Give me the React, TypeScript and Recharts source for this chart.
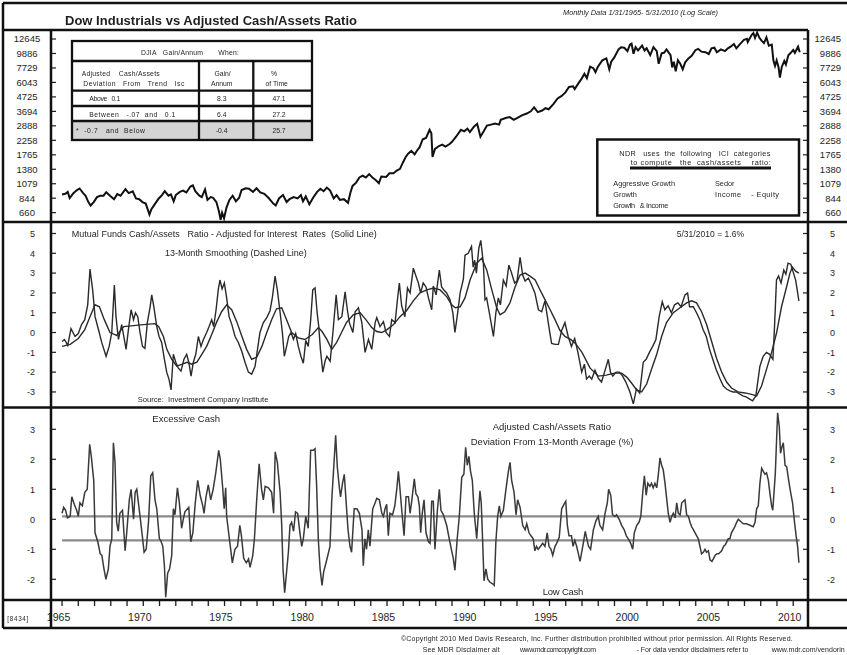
import React from 'react';
import { LineChart, Line, XAxis, YAxis, ReferenceLine } from 'recharts';

const FONT = '"Liberation Sans", Arial, Helvetica, sans-serif';
const INK = '#1e1e1e';
const X_MIN = 1964.32;
const X_MAX = 2010.91;

// DJIA (year, level)
const dowSeries: [number, number][] = [
  [1965.0, 900], [1965.2, 910], [1965.35, 940], [1965.47, 845], [1965.7, 920], [1965.9, 965],
  [1966.08, 995], [1966.3, 920], [1966.45, 880], [1966.62, 790], [1966.76, 745], [1966.95, 790],
  [1967.15, 860], [1967.35, 880], [1967.55, 880], [1967.72, 935], [1967.95, 880], [1968.2, 830],
  [1968.4, 905], [1968.6, 880], [1968.9, 985], [1969.1, 920], [1969.35, 950], [1969.55, 840],
  [1969.75, 830], [1969.95, 790], [1970.15, 770], [1970.38, 640], [1970.5, 700], [1970.7, 760],
  [1970.95, 840], [1971.15, 890], [1971.32, 950], [1971.55, 880], [1971.7, 900], [1971.87, 800],
  [1972.0, 890], [1972.25, 940], [1972.45, 960], [1972.65, 930], [1972.9, 1030], [1973.05, 1050],
  [1973.2, 950], [1973.45, 880], [1973.6, 860], [1973.8, 980], [1973.95, 820], [1974.15, 860],
  [1974.3, 850], [1974.5, 790], [1974.65, 680], [1974.76, 585], [1974.85, 660], [1974.97, 600],
  [1975.12, 720], [1975.3, 820], [1975.5, 880], [1975.7, 800], [1975.9, 850], [1976.05, 970],
  [1976.3, 1000], [1976.5, 990], [1976.75, 940], [1976.97, 1000], [1977.2, 930], [1977.45, 910],
  [1977.7, 850], [1977.85, 810], [1978.0, 770], [1978.15, 745], [1978.35, 840], [1978.6, 890],
  [1978.82, 790], [1979.0, 830], [1979.25, 860], [1979.5, 840], [1979.7, 890], [1979.83, 800],
  [1980.0, 870], [1980.22, 760], [1980.45, 850], [1980.7, 940], [1980.9, 990], [1981.1, 950],
  [1981.3, 1010], [1981.5, 960], [1981.72, 840], [1981.9, 890], [1982.1, 820], [1982.35, 830],
  [1982.6, 780], [1982.75, 930], [1982.88, 1040], [1983.1, 1100], [1983.3, 1200], [1983.5, 1240],
  [1983.7, 1200], [1983.9, 1270], [1984.1, 1200], [1984.3, 1150], [1984.5, 1090], [1984.65, 1220],
  [1984.95, 1210], [1985.15, 1290], [1985.4, 1290], [1985.6, 1350], [1985.8, 1390], [1985.98, 1550],
  [1986.15, 1700], [1986.3, 1800], [1986.5, 1890], [1986.7, 1780], [1986.85, 1900], [1987.0, 2000],
  [1987.2, 2300], [1987.4, 2350], [1987.62, 2700], [1987.73, 2550], [1987.8, 1700], [1987.95, 1950],
  [1988.2, 2050], [1988.4, 2100], [1988.6, 2030], [1988.85, 2120], [1989.0, 2200], [1989.25, 2400],
  [1989.55, 2700], [1989.75, 2630], [1989.95, 2750], [1990.1, 2600], [1990.35, 2850], [1990.55, 2990],
  [1990.75, 2400], [1990.95, 2630], [1991.15, 2900], [1991.4, 2950], [1991.65, 3000], [1991.9, 2950],
  [1992.0, 3200], [1992.3, 3300], [1992.55, 3350], [1992.8, 3200], [1993.0, 3300], [1993.3, 3450],
  [1993.6, 3560], [1993.85, 3700], [1994.05, 3950], [1994.28, 3650], [1994.55, 3750], [1994.75, 3900],
  [1994.95, 3830], [1995.25, 4200], [1995.5, 4600], [1995.75, 4800], [1995.98, 5100], [1996.2, 5600],
  [1996.45, 5650], [1996.55, 5400], [1996.8, 6000], [1996.98, 6450], [1997.15, 7000], [1997.3, 6500],
  [1997.5, 7900], [1997.7, 7700], [1997.83, 7200], [1997.98, 7900], [1998.25, 8800], [1998.5, 9100],
  [1998.68, 7550], [1998.8, 8600], [1998.98, 9200], [1999.25, 10600], [1999.4, 11000], [1999.6, 10900],
  [1999.8, 10300], [1999.95, 11500], [2000.05, 11700], [2000.17, 9850], [2000.3, 11000], [2000.45, 10400],
  [2000.7, 11300], [2000.85, 10400], [2000.98, 10800], [2001.2, 9600], [2001.4, 11000], [2001.6, 10300],
  [2001.72, 8300], [2001.9, 9900], [2002.05, 10000], [2002.2, 10600], [2002.45, 9600], [2002.55, 7800],
  [2002.65, 8600], [2002.77, 7300], [2002.9, 8800], [2003.05, 8300], [2003.2, 7550], [2003.35, 8500],
  [2003.55, 9100], [2003.75, 9500], [2003.98, 10450], [2004.15, 10700], [2004.35, 10200], [2004.6, 10100],
  [2004.8, 9800], [2004.97, 10800], [2005.15, 10900], [2005.3, 10100], [2005.55, 10600], [2005.8, 10300],
  [2005.98, 10800], [2006.15, 11100], [2006.35, 11600], [2006.5, 10800], [2006.75, 11700], [2006.97, 12450],
  [2007.15, 12700], [2007.2, 12000], [2007.45, 13600], [2007.55, 14000], [2007.65, 12900], [2007.78, 14100],
  [2007.92, 12900], [2008.05, 12300], [2008.2, 11800], [2008.35, 13000], [2008.5, 11300], [2008.68, 11500],
  [2008.78, 8800], [2008.88, 8000], [2008.98, 8800], [2009.1, 7800], [2009.18, 6550], [2009.3, 7900],
  [2009.45, 8700], [2009.55, 8200], [2009.7, 9600], [2009.85, 10000], [2010.0, 10500], [2010.1, 10000],
  [2010.3, 11100], [2010.4, 10100],
];
const dowTicks = [660, 844, 1079, 1380, 1765, 2258, 2888, 3694, 4725, 6043, 7729, 9886, 12645];

// adjusted cash/assets ratio (solid line)
const cashSeries: [number, number][] = [
  [1965.0, -0.45], [1965.15, -0.35], [1965.35, -0.65], [1965.55, 0.2], [1965.8, -0.2], [1966.0, -0.05],
  [1966.2, 0.4], [1966.4, 0.65], [1966.58, 1.4], [1966.72, 3.2], [1966.89, 2.1], [1967.03, 0.8],
  [1967.24, 0.15], [1967.44, -0.5], [1967.71, -1.2], [1967.9, -0.7], [1968.06, 0.0], [1968.22, 2.4],
  [1968.32, 0.8], [1968.47, -0.35], [1968.67, 0.4], [1968.8, -0.2], [1968.94, -0.85], [1969.1, 0.25],
  [1969.25, 1.15], [1969.4, 0.65], [1969.52, 1.0], [1969.66, 0.8], [1969.8, 0.0], [1969.95, -0.7],
  [1970.1, -0.8], [1970.25, 0.5], [1970.42, 1.3], [1970.52, 1.9], [1970.65, 1.3], [1970.83, 0.3],
  [1970.97, -0.2], [1971.13, -0.5], [1971.3, -1.35], [1971.44, -2.0], [1971.58, -2.35], [1971.71, -2.9],
  [1971.85, -1.1], [1972.0, -1.5], [1972.16, -1.8], [1972.32, -1.95], [1972.5, -1.35], [1972.67, -1.1],
  [1972.8, -1.5], [1972.94, -2.2], [1973.08, -1.5], [1973.23, -1.1], [1973.39, -0.2], [1973.55, -0.7],
  [1973.7, -0.35], [1973.9, 0.0], [1974.05, 0.3], [1974.21, 0.65], [1974.33, 0.3], [1974.48, 1.15],
  [1974.62, 2.2], [1974.72, 2.65], [1974.85, 2.2], [1974.99, 2.5], [1975.13, 1.75], [1975.28, 0.8],
  [1975.45, 0.4], [1975.65, -0.2], [1975.85, -0.5], [1976.06, -0.95], [1976.26, -1.5], [1976.47, -2.0],
  [1976.67, -2.1], [1976.88, -1.7], [1977.03, -0.85], [1977.18, 0.0], [1977.39, 0.5], [1977.6, 0.75],
  [1977.8, 1.1], [1977.95, 1.8], [1978.11, 2.85], [1978.25, 2.15], [1978.4, 1.15], [1978.56, 0.0],
  [1978.68, -1.2], [1978.82, -0.7], [1978.95, -0.2], [1979.1, 0.0], [1979.24, -0.35], [1979.38, -0.05],
  [1979.54, -0.7], [1979.7, -1.2], [1979.85, -1.55], [1980.0, -0.4], [1980.15, -0.7], [1980.3, 0.6],
  [1980.43, 2.15], [1980.57, 2.25], [1980.7, 1.0], [1980.8, 0.3], [1980.9, -0.85], [1981.05, -2.0],
  [1981.2, -1.4], [1981.3, -1.2], [1981.5, -1.45], [1981.67, 0.0], [1981.87, 1.9], [1982.01, 0.65],
  [1982.22, 0.8], [1982.42, 2.05], [1982.55, 1.2], [1982.68, 0.5], [1982.9, 0.0], [1983.04, 1.05],
  [1983.24, 1.25], [1983.45, 0.5], [1983.65, -1.0], [1983.86, -0.35], [1984.06, -0.85], [1984.27, 0.5],
  [1984.37, 0.75], [1984.57, 0.3], [1984.78, 0.55], [1984.94, 0.0], [1985.15, -0.2], [1985.29, 0.65],
  [1985.5, 0.5], [1985.64, 1.65], [1985.76, 2.5], [1985.9, 1.35], [1986.1, 0.8], [1986.26, 2.25],
  [1986.42, 2.0], [1986.62, 3.25], [1986.78, 2.85], [1986.93, 2.5], [1987.07, 2.0], [1987.23, 2.5],
  [1987.4, 2.3], [1987.55, 1.75], [1987.75, 1.15], [1987.85, 2.35], [1988.02, 1.9], [1988.22, 3.15],
  [1988.36, 2.3], [1988.5, 2.15], [1988.67, 2.0], [1988.88, 1.65], [1989.05, 1.0], [1989.18, 0.0],
  [1989.35, 1.0], [1989.5, 2.0], [1989.7, 2.7], [1989.8, 3.9], [1990.0, 4.0], [1990.2, 4.35],
  [1990.3, 3.3], [1990.4, 3.65], [1990.5, 3.0], [1990.65, 4.25], [1990.77, 4.65], [1990.93, 3.5],
  [1991.03, 1.65], [1991.13, 1.75], [1991.34, 0.8], [1991.55, -0.2], [1991.7, 1.0], [1991.85, 1.75],
  [1991.98, 1.4], [1992.16, 2.65], [1992.33, 2.35], [1992.5, 3.4], [1992.65, 3.05], [1992.85, 2.5],
  [1993.0, 2.6], [1993.19, 3.8], [1993.35, 2.9], [1993.5, 2.6], [1993.7, 2.75], [1993.9, 2.4],
  [1994.1, 2.0], [1994.32, 1.15], [1994.52, 1.05], [1994.72, 1.6], [1994.85, 0.9], [1995.0, 0.1],
  [1995.13, -0.55], [1995.35, -0.6], [1995.55, -0.6], [1995.75, 0.1], [1995.95, 0.5], [1996.15, -0.2],
  [1996.35, -0.7], [1996.55, -0.3], [1996.75, -1.0], [1996.98, -2.0], [1997.15, -1.6], [1997.28, -2.35],
  [1997.45, -2.2], [1997.6, -2.35], [1997.8, -1.9], [1998.0, -2.3], [1998.2, -2.5], [1998.35, -2.1],
  [1998.62, -1.35], [1998.75, -2.0], [1998.9, -2.2], [1999.1, -2.0], [1999.3, -2.0], [1999.5, -2.2],
  [1999.7, -2.5], [1999.95, -3.0], [2000.16, -3.6], [2000.35, -2.85], [2000.55, -3.05], [2000.77, -1.5],
  [2000.95, -1.35], [2001.15, -1.0], [2001.35, -0.7], [2001.55, -0.35], [2001.75, 0.8], [2001.94, 1.55],
  [2002.1, 1.15], [2002.3, 1.35], [2002.5, 1.0], [2002.7, 1.4], [2002.9, 1.5], [2003.1, 1.3],
  [2003.34, 1.9], [2003.5, 2.0], [2003.62, 1.3], [2003.85, 1.3], [2004.05, 1.0], [2004.25, 0.65],
  [2004.45, 0.15], [2004.65, -0.2], [2004.85, -0.85], [2005.05, -1.35], [2005.25, -1.85], [2005.5, -2.35],
  [2005.7, -2.7], [2005.9, -2.85], [2006.1, -2.95], [2006.3, -3.0], [2006.5, -3.0], [2006.7, -3.1],
  [2006.9, -3.2], [2007.1, -3.25], [2007.3, -3.35], [2007.5, -3.45], [2007.7, -3.2], [2007.95, -1.7],
  [2008.15, -1.2], [2008.35, -1.0], [2008.55, -1.1], [2008.75, -1.35], [2008.85, 0.3], [2008.97, 2.65],
  [2009.1, 2.85], [2009.25, 2.5], [2009.42, 3.15], [2009.55, 2.95], [2009.68, 3.5], [2009.85, 3.45],
  [2010.0, 3.05], [2010.15, 2.65], [2010.35, 1.6],
];

// 13-month smoothing of the ratio
const smoothSeries: [number, number][] = [
  [1965.0, -0.7], [1965.5, -0.6], [1966.0, -0.3], [1966.4, 0.15], [1966.72, 0.8], [1967.03, 1.4],
  [1967.3, 1.3], [1967.6, 0.65], [1967.95, 0.0], [1968.36, -0.15], [1968.8, 0.3], [1969.4, 0.35],
  [1970.0, 0.4], [1970.72, 0.45], [1970.95, 0.3], [1971.24, -0.2], [1971.45, -0.85], [1971.75, -1.35],
  [1972.06, -1.7], [1972.4, -1.6], [1972.7, -1.5], [1972.98, -1.6], [1973.3, -1.5], [1973.6, -1.1],
  [1973.9, -0.7], [1974.21, -0.1], [1974.5, 0.5], [1974.82, 1.05], [1975.13, 1.4], [1975.44, 1.15],
  [1975.75, 0.55], [1976.05, -0.15], [1976.36, -0.85], [1976.67, -1.35], [1976.98, -1.25], [1977.3, -0.7],
  [1977.6, 0.0], [1977.9, 0.65], [1978.2, 1.2], [1978.52, 1.25], [1978.82, 0.65], [1979.13, 0.0],
  [1979.54, -0.27], [1979.95, -0.35], [1980.4, -0.1], [1980.78, 0.25], [1981.0, 0.05], [1981.3, -0.35],
  [1981.6, -0.85], [1981.9, -0.5], [1982.2, 0.0], [1982.5, 0.5], [1982.93, 0.9], [1983.35, 1.0],
  [1983.7, 0.65], [1984.06, 0.25], [1984.37, 0.05], [1984.68, 0.0], [1985.0, 0.15], [1985.4, 0.4],
  [1985.8, 0.8], [1986.2, 1.1], [1986.62, 1.6], [1987.03, 2.0], [1987.45, 2.15], [1987.86, 2.25],
  [1988.27, 2.15], [1988.68, 1.8], [1988.98, 1.4], [1989.2, 1.25], [1989.5, 1.3], [1989.8, 1.75],
  [1990.11, 2.65], [1990.52, 3.5], [1990.83, 3.75], [1991.14, 3.15], [1991.45, 2.15], [1991.75, 1.25],
  [1991.96, 0.9], [1992.25, 1.05], [1992.57, 1.5], [1992.88, 2.3], [1993.19, 2.9], [1993.5, 3.0],
  [1993.8, 2.85], [1994.12, 2.65], [1994.42, 2.15], [1994.73, 1.65], [1995.04, 1.15], [1995.34, 0.65],
  [1995.65, 0.1], [1995.95, -0.2], [1996.3, -0.35], [1996.6, -0.55], [1997.0, -1.0], [1997.5, -1.8],
  [1998.0, -2.2], [1998.5, -2.15], [1999.0, -2.05], [1999.44, -2.05], [1999.75, -2.25], [2000.05, -2.55],
  [2000.36, -2.9], [2000.67, -3.0], [2000.98, -2.6], [2001.3, -1.8], [2001.6, -1.1], [2001.9, -0.2],
  [2002.2, 0.5], [2002.62, 1.0], [2003.03, 1.25], [2003.44, 1.5], [2003.75, 1.6], [2004.05, 1.5],
  [2004.36, 1.05], [2004.67, 0.4], [2004.98, -0.45], [2005.28, -1.3], [2005.6, -2.0], [2005.9, -2.5],
  [2006.2, -2.8], [2006.6, -3.0], [2007.03, -3.05], [2007.44, -3.12], [2007.75, -3.2], [2008.05, -2.7],
  [2008.36, -1.85], [2008.67, -1.0], [2008.98, 0.0], [2009.28, 1.3], [2009.59, 2.3], [2009.8, 3.0],
  [2009.95, 3.3], [2010.15, 3.1], [2010.35, 3.0],
];
const cashTicks = [5, 4, 3, 2, 1, 0, -1, -2, -3];

// deviation from 13-month average (%)
const devSeries: [number, number][] = [
  [1965.0, 0.2], [1965.1, 0.4], [1965.22, 0.3], [1965.33, 0.05], [1965.5, 0.1], [1965.6, 0.75],
  [1965.75, 0.5], [1965.9, 0.3], [1966.0, 0.1], [1966.1, 0.55], [1966.25, 0.45], [1966.4, 0.9],
  [1966.55, 1.0], [1966.7, 2.5], [1966.8, 2.1], [1966.95, 1.3], [1967.03, -0.45], [1967.2, -0.75],
  [1967.35, -1.15], [1967.45, -1.2], [1967.58, -1.65], [1967.7, -2.0], [1967.85, -1.65], [1967.95, -0.9],
  [1968.06, -0.65], [1968.16, 2.55], [1968.26, 1.9], [1968.36, -0.1], [1968.46, -0.4], [1968.56, 0.2],
  [1968.72, 0.3], [1968.88, -1.05], [1968.98, -0.45], [1969.14, 0.65], [1969.25, 1.0], [1969.4, 0.0],
  [1969.5, 0.9], [1969.6, 1.0], [1969.7, 0.55], [1969.8, 0.1], [1969.95, -0.6], [1970.05, -1.1],
  [1970.18, -1.0], [1970.32, -0.1], [1970.46, 1.45], [1970.58, 1.55], [1970.72, 0.65], [1970.83, 0.35],
  [1970.99, -0.65], [1971.07, -0.7], [1971.2, -0.9], [1971.3, -1.55], [1971.38, -2.6], [1971.5, -1.8],
  [1971.62, -1.65], [1971.75, -1.2], [1971.85, 0.35], [1971.95, 0.15], [1972.1, 1.05], [1972.22, 0.55],
  [1972.36, -0.3], [1972.46, 0.0], [1972.56, 0.25], [1972.8, 0.4], [1972.92, -0.75], [1973.05, -0.45],
  [1973.2, 0.55], [1973.35, 1.3], [1973.5, 0.8], [1973.66, 0.45], [1973.74, 0.2], [1973.86, 0.75],
  [1974.0, 1.15], [1974.15, 0.65], [1974.3, 1.0], [1974.46, 1.55], [1974.64, 2.3], [1974.74, 2.0],
  [1974.88, 1.1], [1974.98, 0.35], [1975.07, 1.05], [1975.13, 0.1], [1975.3, -0.65], [1975.48, -1.45],
  [1975.64, -1.0], [1975.8, -0.9], [1975.94, -0.2], [1976.04, -0.55], [1976.18, -1.3], [1976.34, -1.45],
  [1976.48, -1.32], [1976.57, -1.6], [1976.74, -1.2], [1976.84, -0.65], [1976.98, 0.65], [1977.13, 1.85],
  [1977.28, 1.0], [1977.39, 0.65], [1977.5, 1.1], [1977.7, 1.05], [1977.9, 0.9], [1978.02, 0.2],
  [1978.12, 2.25], [1978.25, 1.9], [1978.42, 0.9], [1978.52, -0.2], [1978.6, -1.65], [1978.7, -2.45],
  [1978.82, -1.75], [1978.93, -1.1], [1979.03, -0.2], [1979.13, -0.1], [1979.25, -0.4], [1979.37, 0.25],
  [1979.5, 0.2], [1979.64, -0.45], [1979.75, -0.9], [1979.85, -0.65], [1980.0, 0.1], [1980.15, -0.3],
  [1980.3, 2.3], [1980.45, 2.3], [1980.57, 2.35], [1980.67, 1.1], [1980.77, -0.65], [1980.88, -1.65],
  [1981.0, -2.2], [1981.1, -1.75], [1981.2, -1.55], [1981.36, -1.2], [1981.49, -0.9], [1981.6, 0.65],
  [1981.74, 1.9], [1981.84, 2.8], [1981.94, 1.75], [1982.06, 1.1], [1982.14, 0.75], [1982.26, 1.2],
  [1982.37, 1.5], [1982.5, 0.45], [1982.6, -0.35], [1982.72, -0.9], [1982.82, -1.1], [1982.98, 0.35],
  [1983.15, 0.35], [1983.3, 0.2], [1983.46, -0.35], [1983.54, -1.55], [1983.64, -0.65], [1983.74, -1.0],
  [1983.85, -0.35], [1983.95, -0.9], [1984.12, 0.35], [1984.27, 0.55], [1984.37, 0.7], [1984.53, 0.65],
  [1984.68, 0.2], [1984.78, 0.1], [1984.88, 0.35], [1984.98, 0.5], [1985.08, -0.55], [1985.18, 0.2],
  [1985.34, 0.15], [1985.48, 0.45], [1985.6, 1.0], [1985.7, 1.6], [1985.8, 1.0], [1985.9, 0.35],
  [1986.05, -0.55], [1986.17, 0.75], [1986.32, 0.75], [1986.42, 0.2], [1986.52, 0.6], [1986.68, 1.35],
  [1986.78, 0.85], [1986.9, 0.75], [1986.99, 0.45], [1987.07, -0.45], [1987.17, 0.2], [1987.28, 0.65],
  [1987.4, -0.45], [1987.55, -0.75], [1987.65, -0.8], [1987.75, 0.6], [1987.85, 0.6], [1987.95, -1.0],
  [1988.1, 0.3], [1988.22, 1.0], [1988.32, 0.3], [1988.47, 0.15], [1988.67, -0.2], [1988.83, -0.65],
  [1988.98, -1.05], [1989.08, -1.3], [1989.18, -1.7], [1989.32, -0.65], [1989.45, 0.1], [1989.6, 1.4],
  [1989.73, 1.5], [1989.84, 2.4], [1989.94, 1.8], [1990.04, 2.1], [1990.14, 1.6], [1990.25, 1.3],
  [1990.37, 0.2], [1990.52, -0.65], [1990.65, 0.4], [1990.72, 0.95], [1990.8, 0.55], [1990.88, -0.65],
  [1990.97, -2.05], [1991.09, -1.65], [1991.2, -2.0], [1991.34, -2.1], [1991.5, -2.15], [1991.6, -2.2],
  [1991.7, -0.75], [1991.81, 0.1], [1991.91, 0.45], [1992.01, 0.1], [1992.16, 0.3], [1992.32, 1.0],
  [1992.47, 1.6], [1992.57, 1.9], [1992.67, 1.3], [1992.82, 0.9], [1992.94, 0.15], [1993.04, 0.65],
  [1993.19, 0.4], [1993.35, -0.2], [1993.5, -0.35], [1993.6, -0.15], [1993.74, -0.45], [1993.86, -0.55],
  [1994.0, -0.65], [1994.1, -1.05], [1994.2, -0.9], [1994.3, -1.0], [1994.45, -0.9], [1994.58, -0.8],
  [1994.72, -0.9], [1994.86, -0.45], [1994.97, -0.9], [1995.09, -1.0], [1995.2, -1.2], [1995.34, -0.9],
  [1995.44, -0.8], [1995.6, -0.6], [1995.75, 0.35], [1995.89, 0.5], [1996.0, 0.6], [1996.1, -0.2],
  [1996.2, -0.55], [1996.35, -0.55], [1996.45, -0.9], [1996.56, -0.7], [1996.67, -0.9], [1996.78, -1.15],
  [1996.88, -1.4], [1996.98, -1.1], [1997.08, -0.8], [1997.2, -0.4], [1997.3, -0.65], [1997.4, -0.9],
  [1997.53, -1.0], [1997.7, -0.35], [1997.86, -0.05], [1998.0, 0.1], [1998.1, -0.2], [1998.27, -0.35],
  [1998.42, 0.2], [1998.56, 0.55], [1998.64, 1.0], [1998.77, 0.8], [1998.88, 0.15], [1999.03, 0.1],
  [1999.13, 0.15], [1999.29, 0.0], [1999.44, -0.2], [1999.6, -0.35], [1999.73, -0.55], [1999.85, -0.65],
  [2000.0, -0.8], [2000.12, -1.0], [2000.22, -0.45], [2000.37, -0.2], [2000.51, -0.1], [2000.62, 0.1],
  [2000.74, 0.9], [2000.84, 1.45], [2000.95, 0.8], [2001.05, 1.2], [2001.18, 1.1], [2001.28, 1.2],
  [2001.38, 1.05], [2001.49, 1.2], [2001.6, 1.05], [2001.7, 1.5], [2001.8, 2.05], [2001.9, 1.8],
  [2002.0, 1.65], [2002.11, 1.2], [2002.21, 0.7], [2002.31, 0.2], [2002.42, -0.1], [2002.52, 0.1],
  [2002.62, 0.2], [2002.73, 0.05], [2002.83, 0.55], [2002.93, 0.2], [2003.04, 0.15], [2003.14, 0.55],
  [2003.24, 0.6], [2003.34, 0.65], [2003.44, 0.15], [2003.55, 0.1], [2003.65, -0.1], [2003.75, -0.25],
  [2003.86, -0.35], [2003.96, -0.45], [2004.06, -0.55], [2004.16, -0.65], [2004.26, -0.9], [2004.36, -1.15],
  [2004.47, -1.1], [2004.57, -1.0], [2004.67, -1.1], [2004.78, -1.05], [2004.88, -1.35], [2005.0, -1.4],
  [2005.1, -1.3], [2005.2, -1.2], [2005.31, -1.15], [2005.41, -1.15], [2005.6, -1.05], [2005.72, -0.9],
  [2005.82, -0.85], [2006.0, -0.65], [2006.1, -0.65], [2006.2, -0.45], [2006.3, -0.35], [2006.4, -0.25],
  [2006.52, -0.1], [2006.62, 0.0], [2006.72, -0.05], [2006.82, -0.1], [2006.93, -0.15], [2007.13, -0.15],
  [2007.34, -0.2], [2007.54, -0.25], [2007.65, -0.1], [2007.75, 0.35], [2007.85, 0.45], [2007.95, 1.2],
  [2008.06, 1.7], [2008.16, 1.6], [2008.26, 1.5], [2008.36, 1.55], [2008.47, 1.3], [2008.57, 0.85],
  [2008.67, 0.45], [2008.74, 0.3], [2008.82, 0.9], [2008.9, 1.55], [2008.98, 2.7], [2009.04, 3.55],
  [2009.14, 3.1], [2009.22, 2.2], [2009.3, 2.4], [2009.39, 2.55], [2009.5, 1.8], [2009.6, 1.75],
  [2009.72, 1.3], [2009.84, 0.9], [2009.96, 0.55], [2010.08, -0.1], [2010.18, -0.55], [2010.27, -0.9],
  [2010.35, -1.45],
];
const devTicks = [3, 2, 1, 0, -1, -2];
const devBands = [0.1, -0.7];
const bandSpan = [1965, 2010.4];

const yearLabels = [1965, 1970, 1975, 1980, 1985, 1990, 1995, 2000, 2005, 2010];
const yearTicks = Array.from({ length: 46 }, (_, i) => 1965 + i);

const rows = (pts: [number, number][]) => pts.map(([x, v]) => ({ x, v }));

// tick marks drawn inside the plot on both sides, labels on both margins
function YTick(props: any) {
  const { y, payload, lx, la, rx, ra, fs } = props;
  const label = String(payload.value);
  return (
    <g>
      <line x1={51} x2={56} y1={y} y2={y} stroke={INK} strokeWidth={1.2} />
      <line x1={803} x2={808} y1={y} y2={y} stroke={INK} strokeWidth={1.2} />
      <text x={lx} y={y + fs * 0.36} textAnchor={la} fontSize={fs} fontFamily={FONT} fill={INK}>{label}</text>
      <text x={rx} y={y + fs * 0.36} textAnchor={ra} fontSize={fs} fontFamily={FONT} fill={INK}>{label}</text>
    </g>
  );
}

function YearTick(props: any) {
  const { x, payload } = props;
  const yr = payload.value;
  return (
    <g>
      <line x1={x} x2={x} y1={192} y2={198} stroke={INK} strokeWidth={1.3} />
      {yearLabels.includes(yr) && (
        <text x={x - 3.5} y={212.5} textAnchor="middle" fontSize={10.5} fontFamily={FONT} fill={INK}>{yr}</text>
      )}
    </g>
  );
}

function Txt({ x, y, s, w, anchor = 'start', bold = false, italic = false, children }: any) {
  return (
    <text
      x={x}
      y={y}
      fontSize={s}
      textAnchor={anchor}
      textLength={w}
      lengthAdjust={w ? 'spacing' : undefined}
      fontWeight={bold ? 'bold' : 'normal'}
      fontStyle={italic ? 'italic' : 'normal'}
      fontFamily={FONT}
      fill={INK}
      style={{ whiteSpace: 'pre' }}
    >
      {children}
    </text>
  );
}

const margin = { top: 0, right: 39, bottom: 0, left: 0 };

export default function App() {
  return (
    <div style={{ position: 'absolute', left: 0, top: 0, width: 847, height: 655, background: '#fff', overflow: 'hidden' }}>
      {/* top panel: DJIA, log scale */}
      <div style={{ position: 'absolute', left: 0, top: 30 }}>
        <LineChart width={847} height={192} margin={margin}>
          <XAxis type="number" dataKey="x" domain={[X_MIN, X_MAX]} hide allowDataOverflow />
          <YAxis
            type="number"
            scale="log"
            domain={[563, 14738]}
            ticks={dowTicks}
            interval={0}
            width={51}
            axisLine={false}
            tickLine={false}
            allowDataOverflow
            tick={(p: any) => <YTick {...p} lx={27} la="middle" rx={841} ra="end" fs={9.5} />}
          />
          <Line data={rows(dowSeries)} dataKey="v" type="linear" dot={false} stroke="#111" strokeWidth={2} isAnimationActive={false} />
        </LineChart>
      </div>

      {/* middle panel: cash/assets ratio + smoothing */}
      <div style={{ position: 'absolute', left: 0, top: 222 }}>
        <LineChart width={847} height={185} margin={margin}>
          <XAxis type="number" dataKey="x" domain={[X_MIN, X_MAX]} hide allowDataOverflow />
          <YAxis
            type="number"
            domain={[-3.76, 5.58]}
            ticks={cashTicks}
            interval={0}
            width={51}
            axisLine={false}
            tickLine={false}
            allowDataOverflow
            tick={(p: any) => <YTick {...p} lx={35} la="end" rx={835} ra="end" fs={9} />}
          />
          <Line data={rows(smoothSeries)} dataKey="v" type="linear" dot={false} stroke="#2a2a2a" strokeWidth={1.4} isAnimationActive={false} />
          <Line data={rows(cashSeries)} dataKey="v" type="linear" dot={false} stroke="#2a2a2a" strokeWidth={1.4} isAnimationActive={false} />
        </LineChart>
      </div>

      {/* bottom panel: deviation from 13-month average */}
      <div style={{ position: 'absolute', left: 0, top: 408 }}>
        <LineChart width={847} height={220} margin={margin}>
          <XAxis
            type="number"
            dataKey="x"
            domain={[X_MIN, X_MAX]}
            ticks={yearTicks}
            interval={0}
            height={28}
            axisLine={false}
            tickLine={false}
            allowDataOverflow
            tick={(p: any) => <YearTick {...p} />}
          />
          <YAxis
            type="number"
            domain={[-2.69, 3.71]}
            ticks={devTicks}
            interval={0}
            width={51}
            axisLine={false}
            tickLine={false}
            allowDataOverflow
            tick={(p: any) => <YTick {...p} lx={35} la="end" rx={835} ra="end" fs={9} />}
          />
          {devBands.map((b) => (
            <ReferenceLine
              key={b}
              segment={[{ x: bandSpan[0], y: b }, { x: bandSpan[1], y: b }]}
              stroke="#8a8a8a"
              strokeWidth={2.2}
            />
          ))}
          <Line data={rows(devSeries)} dataKey="v" type="linear" dot={false} stroke="#3a3a3a" strokeWidth={1.5} isAnimationActive={false} />
        </LineChart>
      </div>

      {/* frame, boxes and annotations */}
      <svg width={847} height={655} style={{ position: 'absolute', left: 0, top: 0, pointerEvents: 'none', willChange: 'transform' }}>
        <g stroke="#111" strokeWidth={2.5}>
          <line x1={3} y1={3} x2={847} y2={3} />
          <line x1={3} y1={3} x2={3} y2={628} />
          <line x1={3} y1={30} x2={808} y2={30} />
          <line x1={51} y1={30} x2={51} y2={628} />
          <line x1={808} y1={30} x2={808} y2={628} />
          <line x1={3} y1={222} x2={847} y2={222} />
          <line x1={3} y1={407.5} x2={847} y2={407.5} />
          <line x1={3} y1={600} x2={847} y2={600} />
          <line x1={3} y1={628} x2={847} y2={628} />
        </g>

        <Txt x={65} y={24.5} s={13} w={292} bold>Dow Industrials vs Adjusted Cash/Assets Ratio</Txt>
        <Txt x={563} y={14.5} s={7.4} w={155} italic>Monthly Data 1/31/1965- 5/31/2010 (Log Scale)</Txt>

        {/* DJIA gain table */}
        <rect x={72} y={41} width={240} height={99} fill="#fff" />
        <rect x={72} y={121} width={240} height={19} fill="#d4d4d4" />
        <g stroke="#111" strokeWidth={2.3}>
          <line x1={72} y1={61} x2={312} y2={61} />
          <line x1={72} y1={90.7} x2={312} y2={90.7} />
          <line x1={72} y1={106} x2={312} y2={106} />
          <line x1={72} y1={121} x2={312} y2={121} />
          <line x1={199} y1={61} x2={199} y2={140} />
          <line x1={253.3} y1={61} x2={253.3} y2={140} />
          <rect x={72} y={41} width={240} height={99} fill="none" />
        </g>
        <Txt x={190} y={55} s={6.8} w={98} anchor="middle">DJIA   Gain/Annum       When:</Txt>
        <Txt x={81.7} y={75.5} s={6.8} w={78}>Adjusted    Cash/Assets</Txt>
        <Txt x={83.3} y={86} s={6.8} w={101}>Deviation   From   Trend   Isc</Txt>
        <Txt x={222.5} y={75.5} s={6.8} anchor="middle">Gain/</Txt>
        <Txt x={221.7} y={86} s={6.8} anchor="middle">Annum</Txt>
        <Txt x={274} y={75.5} s={6.8} anchor="middle">%</Txt>
        <Txt x={276.7} y={86} s={6.8} anchor="middle">of Time</Txt>
        <Txt x={89.3} y={100.5} s={6.8} w={31}>Above   0.1</Txt>
        <Txt x={221.7} y={100.5} s={6.8} anchor="middle">8.3</Txt>
        <Txt x={279} y={100.5} s={6.8} anchor="middle">47.1</Txt>
        <Txt x={89.3} y={116.5} s={6.8} w={86}>Between   -.07  and   0.1</Txt>
        <Txt x={221.7} y={116.5} s={6.8} anchor="middle">6.4</Txt>
        <Txt x={279} y={116.5} s={6.8} anchor="middle">27.2</Txt>
        <Txt x={76} y={133} s={6.8} w={69}>*  -0.7   and  Below</Txt>
        <Txt x={221.7} y={133} s={6.8} anchor="middle">-0.4</Txt>
        <Txt x={279} y={133} s={6.8} anchor="middle">25.7</Txt>

        {/* NDR categories box */}
        <rect x={597.3} y={139.5} width={201.7} height={76} fill="#fff" stroke="#111" strokeWidth={2.5} />
        <Txt x={619.3} y={156} s={7.3} w={151}>NDR   uses  the  following   ICI  categories</Txt>
        <Txt x={630.7} y={165} s={7.3} w={140}>to compute   the  cash/assets    ratio:</Txt>
        <rect x={630} y={166.5} width={141} height={3} fill="#111" />
        <Txt x={613.3} y={186} s={7.3}>Aggressive Growth</Txt>
        <Txt x={715} y={186} s={7.3}>Sedor</Txt>
        <Txt x={613.3} y={197} s={7.3}>Growth</Txt>
        <Txt x={715} y={197} s={7.3} w={64}>Income    - Equity</Txt>
        <Txt x={613.3} y={207.5} s={7.3} w={55}>Growth   &amp; Income</Txt>

        {/* middle panel notes */}
        <Txt x={71.7} y={236.5} s={9} w={305}>Mutual Funds Cash/Assets   Ratio - Adjusted for Interest  Rates  (Solid Line)</Txt>
        <Txt x={165} y={256} s={9} w={141.7}>13-Month Smoothing (Dashed Line)</Txt>
        <Txt x={676.7} y={237} s={8.5} w={67.3}>5/31/2010 = 1.6%</Txt>
        <Txt x={137.7} y={401.5} s={7.6} w={130.7}>Source:  Investment Company Institute</Txt>

        {/* bottom panel notes */}
        <Txt x={152.3} y={422} s={9.5} w={67.7}>Excessive Cash</Txt>
        <Txt x={492.7} y={429.5} s={9.5} w={118.3}>Adjusted Cash/Assets Ratio</Txt>
        <Txt x={470.7} y={445} s={9.5} w={162.7}>Deviation From 13-Month Average (%)</Txt>
        <Txt x={542.7} y={595} s={9.5} w={40.7}>Low Cash</Txt>

        <Txt x={7.3} y={621} s={6.3} w={21}>[8434]</Txt>

        <Txt x={401} y={640.5} s={7} w={391.7}>©Copyright 2010 Med Davis Research, Inc. Further distribution prohibited without prior permission. All Rights Reserved.</Txt>
        <Txt x={422.7} y={652} s={7} w={77}>See MDR Disclaimer alt</Txt>
        <Txt x={520} y={652} s={7} w={76}>www.mdr.comcopyright.com</Txt>
        <Txt x={636.7} y={652} s={7} w={111.6}>- For data vendor disclaimers refer to</Txt>
        <Txt x={771.7} y={652} s={7} w={73}>www.mdr.com/vendorin</Txt>
      </svg>
    </div>
  );
}
